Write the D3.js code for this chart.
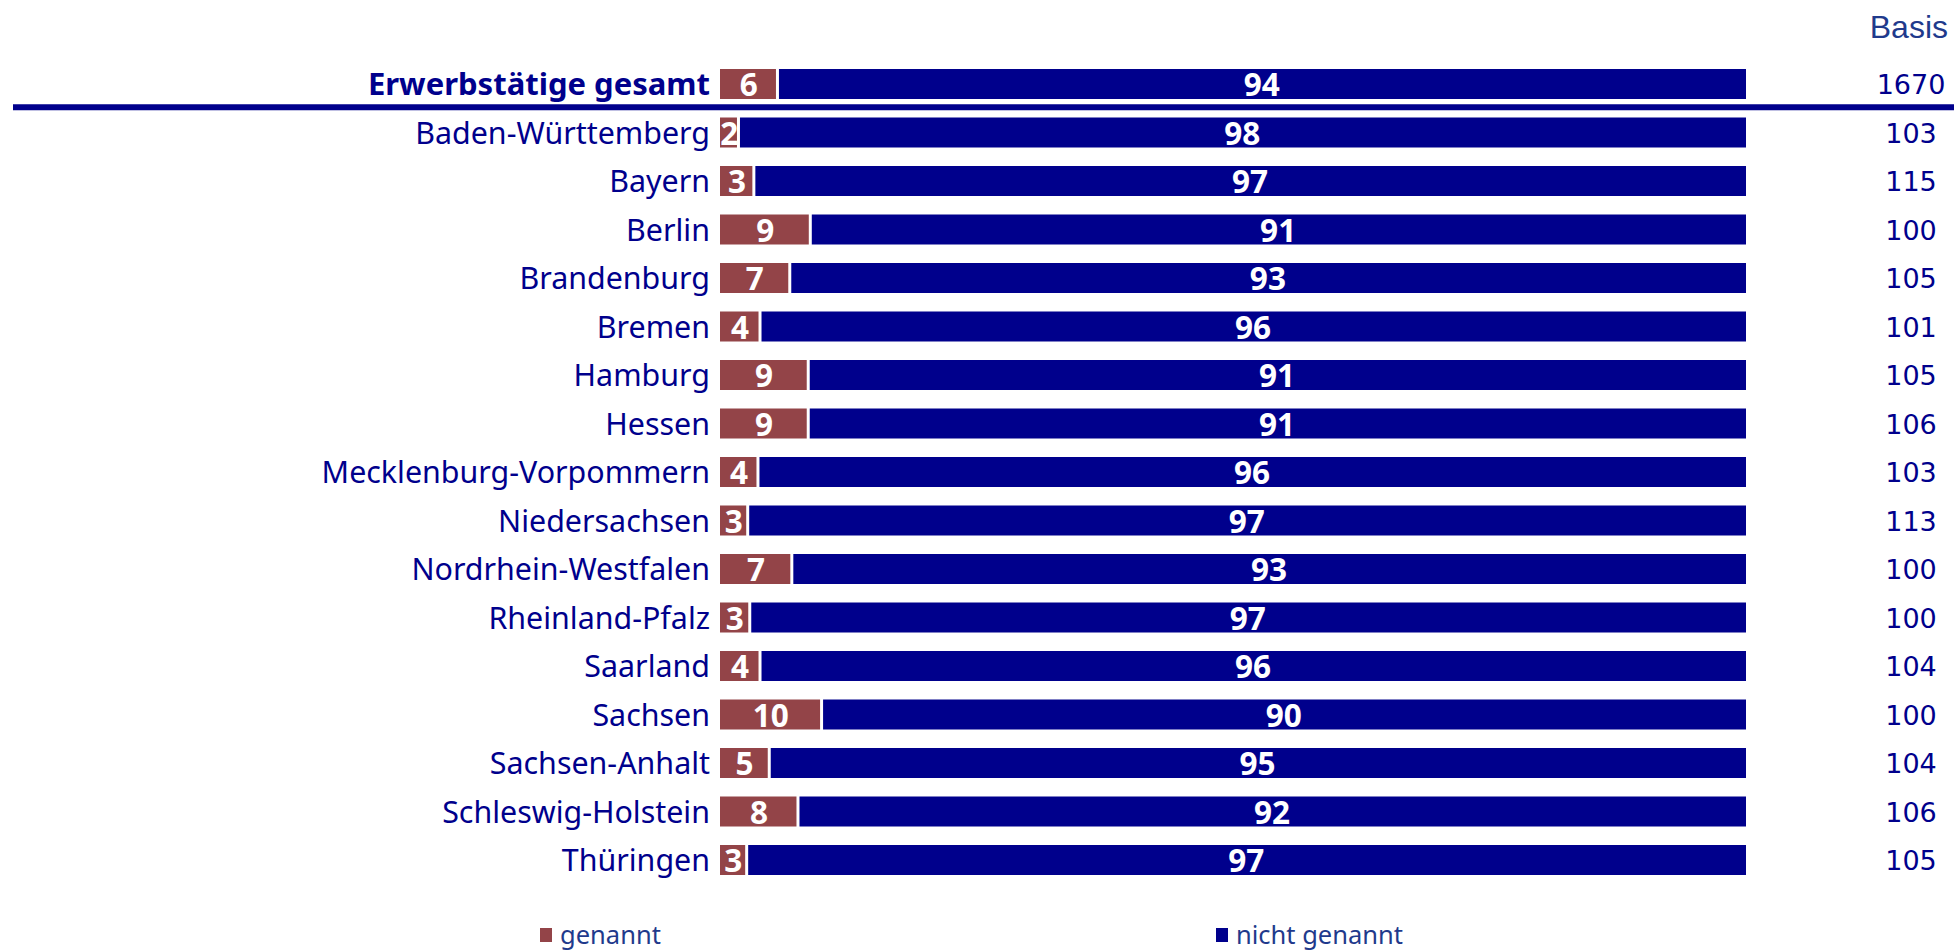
<!DOCTYPE html>
<html>
<head>
<meta charset="utf-8">
<script src="https://cdn.jsdelivr.net/npm/d3@7"></script>
<style>
  html, body { margin: 0; padding: 0; background: #fff; }
  svg { display: block; }
</style>
</head>
<body>
<svg id="chart" width="1954" height="951"></svg>
<script>
const categories = ["Erwerbstätige gesamt", "Baden-Württemberg", "Bayern", "Berlin", "Brandenburg", "Bremen", "Hamburg", "Hessen", "Mecklenburg-Vorpommern", "Niedersachsen", "Nordrhein-Westfalen", "Rheinland-Pfalz", "Saarland", "Sachsen", "Sachsen-Anhalt", "Schleswig-Holstein", "Thüringen"];
const genannt = [5.6, 1.8, 3.3, 8.8, 6.8, 3.9, 8.6, 8.6, 3.7, 2.7, 7.0, 2.9, 3.9, 9.9, 4.8, 7.6, 2.6];
const nichtGenannt = [94.4, 98.2, 96.7, 91.2, 93.2, 96.1, 91.4, 91.4, 96.3, 97.3, 93.0, 97.1, 96.1, 90.1, 95.2, 92.4, 97.4];
const basis = [1670, 103, 115, 100, 105, 101, 105, 106, 103, 113, 100, 100, 104, 100, 104, 106, 105];
const seriesNames = ["genannt", "nicht genannt"];
const basisTitle = "Basis";

const RED = "#934448", BLUE = "#00008c", TEXT = "#00008c", LIGHTBLUE = "#1f3a8c";

const svg = d3.select("#chart");
const x = d3.scaleLinear().domain([0, 100]).range([720, 1746]);
const y = d3.scaleBand().domain(categories).range([59.75, 884.25]).paddingInner(0.3814).paddingOuter(0.1907);
const bw = y.bandwidth();
const gap = 1.5;
const fmt = v => String(Math.round(v));

const rows = categories.map((c, i) => ({ c, i, g: genannt[i], n: nichtGenannt[i], b: basis[i] }));

// separator line under total
const sepY = (y(categories[0]) + bw + y(categories[1])) / 2 - 1;
svg.append("line").attr("x1", 13).attr("x2", 1954).attr("y1", sepY).attr("y2", sepY)
  .attr("stroke", BLUE).attr("stroke-width", 6);

const row = svg.selectAll("g.row").data(rows).enter().append("g").attr("class", "row");

row.append("rect")
  .attr("x", d => x(0))
  .attr("y", d => y(d.c))
  .attr("width", d => x(d.g) - x(0) - gap)
  .attr("height", bw)
  .attr("fill", RED);

row.append("rect")
  .attr("x", d => x(d.g) + gap)
  .attr("y", d => y(d.c))
  .attr("width", d => x(d.g + d.n) - x(d.g) - gap)
  .attr("height", bw)
  .attr("fill", BLUE);

// category labels
row.append("text")
  .attr("x", x(0) - 10)
  .attr("y", d => y(d.c) + bw / 2 + 11)
  .attr("text-anchor", "end")
  .attr("font-family", "'Noto Sans', sans-serif")
  .attr("font-size", d => d.i === 0 ? 31 : 30.4)
  .attr("font-weight", d => d.i === 0 ? 700 : 400)
  .attr("fill", TEXT)
  .text(d => d.c);

// value labels
row.append("text")
  .attr("x", d => (x(0) + x(d.g)) / 2)
  .attr("y", d => y(d.c) + bw / 2 + 12)
  .attr("text-anchor", "middle")
  .attr("font-family", "'Noto Sans', sans-serif")
  .attr("font-size", 31.5)
  .attr("font-weight", 700)
  .attr("fill", "#fff")
  .text(d => fmt(d.g));

row.append("text")
  .attr("x", d => (x(d.g) + x(d.g + d.n)) / 2)
  .attr("y", d => y(d.c) + bw / 2 + 12)
  .attr("text-anchor", "middle")
  .attr("font-family", "'Noto Sans', sans-serif")
  .attr("font-size", 31.5)
  .attr("font-weight", 700)
  .attr("fill", "#fff")
  .text(d => fmt(d.n));

// basis column
row.append("text")
  .attr("x", 1911)
  .attr("y", d => y(d.c) + bw / 2 + 10)
  .attr("text-anchor", "middle")
  .attr("font-family", "'DejaVu Sans', sans-serif")
  .attr("font-size", 27)
  .attr("fill", TEXT)
  .text(d => d.b);

svg.append("text")
  .attr("x", 1948).attr("y", 38)
  .attr("text-anchor", "end")
  .attr("font-family", "'Liberation Sans', Arial, sans-serif")
  .attr("font-size", 32)
  .attr("fill", LIGHTBLUE)
  .text(basisTitle);

// legend
const legendX = [540, 1216];
const colors = [RED, BLUE];
const lg = svg.selectAll("g.legend").data(seriesNames).enter().append("g").attr("class", "legend");
lg.append("rect")
  .attr("x", (d, i) => legendX[i]).attr("y", 928)
  .attr("width", 12).attr("height", 14)
  .attr("fill", (d, i) => colors[i]);
lg.append("text")
  .attr("x", (d, i) => legendX[i] + 20).attr("y", 944)
  .attr("font-family", "'Noto Sans', sans-serif")
  .attr("font-size", 25.5)
  .attr("fill", LIGHTBLUE)
  .text(d => d);
</script>
</body>
</html>
